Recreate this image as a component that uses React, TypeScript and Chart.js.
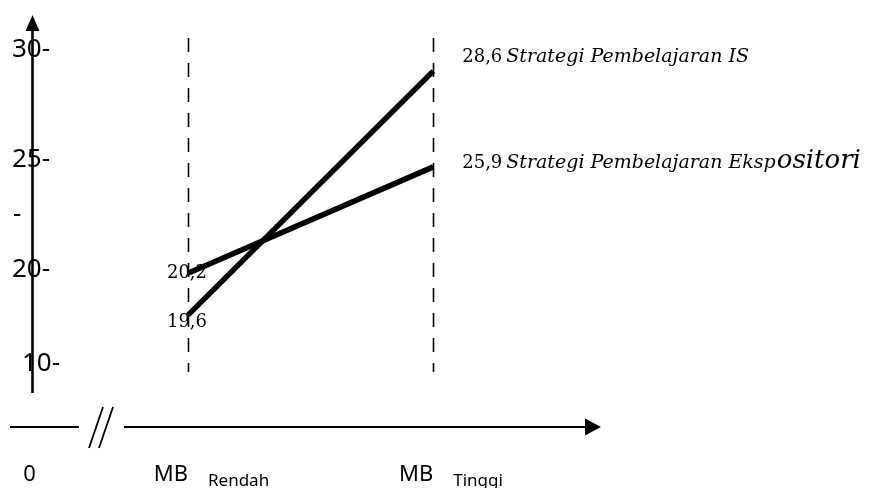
import React, { useEffect, useRef } from "react";
import { Chart, registerables, LinearScale } from "chart.js";

// ---------- data ----------
const categories = ["Rendah", "Tinggi"];
const categoryPrefix = "MB";
const categoryX = [1, 2];
const originLabel = "0";

const seriesNames = ["Strategi Pembelajaran IS", "Strategi Pembelajaran Ekspositori"];
// values printed on the chart
const isPrinted = [19.6, 28.6];
const eksPrinted = [20.2, 25.9];
// where the lines are drawn, read against the (broken) axis
const isPlotted = [15.0, 28.95];
const eksPlotted = [19.45, 24.6];

const yTickValues = [30, 25, 22.5, 20, 10];
const yTickLabels = ["30-", "25-", "-", "20-", "10-"];

// ---------- broken y scale (compressed below 20) ----------
const BREAK_AT = 20;
const BELOW_RATIO = 0.427;
const fwd = (v: number) => (v >= BREAK_AT ? v : BREAK_AT - (BREAK_AT - v) * BELOW_RATIO);
const inv = (t: number) => (t >= BREAK_AT ? t : BREAK_AT - (BREAK_AT - t) / BELOW_RATIO);

class BrokenLinearScale extends LinearScale {
  configure() {
    super.configure();
    const s = fwd(this.min);
    const e = fwd(this.max);
    (this as any)._startValue = s;
    (this as any)._endValue = e;
    (this as any)._valueRange = e - s;
  }
  getPixelForValue(value: number) {
    return super.getPixelForValue(value === null || value === undefined ? value : fwd(value));
  }
  getValueForPixel(pixel: number) {
    return inv(super.getValueForPixel(pixel) as number);
  }
}
(BrokenLinearScale as any).id = "brokenLinear";
(BrokenLinearScale as any).defaults = (LinearScale as any).defaults;

Chart.register(...registerables, BrokenLinearScale as any);

// ---------- styles ----------
const SANS = "'Noto Sans', 'Open Sans', sans-serif";
const SERIF = "'DejaVu Serif', serif";
const tickIndent = [0, 0, 1, 0, 10];
const endLabelDy = [-9, 1];
const startLabelDy = [12, 5];
const enlargeFrom = [-1, "Strategi Pembelajaran Eksp".length];

const fmt = (v: number) => v.toFixed(1).replace(".", ",");

const decor = {
  id: "decor",
  beforeDatasetsDraw(chart: any) {
    const { ctx, chartArea: a, scales } = chart;
    const xs = scales.x;
    ctx.save();
    ctx.strokeStyle = "#000";
    ctx.fillStyle = "#000";

    // dashed guide lines
    ctx.lineWidth = 1.6;
    ctx.setLineDash([14, 11]);
    categoryX.forEach((cx) => {
      const px = Math.round(xs.getPixelForValue(cx)) + 0.5;
      ctx.beginPath();
      ctx.moveTo(px, a.top - 10);
      ctx.lineTo(px, a.bottom - 55);
      ctx.stroke();
    });
    ctx.setLineDash([]);

    // y axis with arrow
    const ax = a.left + 1.5;
    ctx.lineWidth = 2.6;
    ctx.beginPath();
    ctx.moveTo(ax, a.bottom - 34);
    ctx.lineTo(ax, a.top - 18);
    ctx.stroke();
    ctx.beginPath();
    ctx.moveTo(ax, a.top - 33);
    ctx.lineTo(ax - 7, a.top - 17);
    ctx.lineTo(ax + 7, a.top - 17);
    ctx.closePath();
    ctx.fill();

    // x axis with break and arrow
    const ay = a.bottom;
    ctx.lineWidth = 2.2;
    ctx.beginPath();
    ctx.moveTo(a.left - 21, ay);
    ctx.lineTo(a.left + 48, ay);
    ctx.moveTo(a.left + 93, ay);
    ctx.lineTo(a.right - 15, ay);
    ctx.stroke();
    ctx.lineWidth = 1.8;
    ctx.beginPath();
    ctx.moveTo(a.left + 58, ay + 21);
    ctx.lineTo(a.left + 72, ay - 20);
    ctx.moveTo(a.left + 68, ay + 21);
    ctx.lineTo(a.left + 82, ay - 20);
    ctx.stroke();
    ctx.beginPath();
    ctx.moveTo(a.right + 1, ay);
    ctx.lineTo(a.right - 15, ay - 8.5);
    ctx.lineTo(a.right - 15, ay + 8.5);
    ctx.closePath();
    ctx.fill();
    ctx.restore();
  },
  afterDatasetsDraw(chart: any) {
    const { ctx, chartArea: a, scales } = chart;
    const xs = scales.x;
    const ys = scales.y;
    ctx.save();
    ctx.fillStyle = "#000";
    ctx.textBaseline = "alphabetic";

    // y tick labels
    ctx.font = `26px ${SANS}`;
    ctx.textAlign = "left";
    yTickValues.forEach((v, i) => {
      const py = ys.getPixelForValue(v);
      ctx.fillText(yTickLabels[i], a.left - 19 + tickIndent[i], py + 9);
    });

    // x labels
    ctx.font = `22px ${SANS}`;
    ctx.textAlign = "center";
    ctx.fillText(originLabel, a.left - 1.5, a.bottom + 54);
    categories.forEach((c, i) => {
      const px = xs.getPixelForValue(categoryX[i]);
      ctx.font = `22px ${SANS}`;
      ctx.textAlign = "right";
      ctx.fillText(categoryPrefix, px, a.bottom + 54);
      ctx.font = `17px ${SANS}`;
      ctx.textAlign = "left";
      ctx.fillText(c, px + 20, a.bottom + 59);
    });

    // value labels
    const printed = [isPrinted, eksPrinted];
    const plotted = [isPlotted, eksPlotted];
    printed.forEach((vals, s) => {
      // start label
      const x0 = xs.getPixelForValue(categoryX[0]);
      const y0 = ys.getPixelForValue(plotted[s][0]);
      ctx.font = `18px ${SERIF}`;
      ctx.textAlign = "left";
      ctx.fillText(fmt(vals[0]), x0 - 21, y0 + startLabelDy[s]);

      // end label with series name
      const x1 = xs.getPixelForValue(categoryX[1]) + 29;
      const y1 = ys.getPixelForValue(plotted[s][1]) + endLabelDy[s];
      const num = fmt(vals[1]);
      ctx.font = `18px ${SERIF}`;
      ctx.fillText(num, x1, y1);
      let x = x1 + ctx.measureText(num).width + 4;
      const name = seriesNames[s];
      const cut = enlargeFrom[s] as number;
      const small = cut > 0 ? name.slice(0, cut) : name;
      const big = cut > 0 ? name.slice(cut) : "";
      ctx.font = `italic 19px ${SERIF}`;
      ctx.fillText(small, x, y1);
      x += ctx.measureText(small).width;
      if (big) {
        ctx.font = `italic 26px ${SERIF}`;
        ctx.fillText(big, x + 1, y1);
      }
    });
    ctx.restore();
  },
};

export default function App() {
  const ref = useRef<HTMLCanvasElement | null>(null);
  useEffect(() => {
    document.body.style.margin = "0";
    const canvas = ref.current;
    if (!canvas) return;
    const chart = new Chart(canvas, {
      type: "line",
      data: {
        datasets: [
          {
            label: seriesNames[0],
            data: categoryX.map((x, i) => ({ x, y: isPlotted[i] })),
            borderColor: "#000",
            borderWidth: 5.5,
            pointRadius: 0,
            tension: 0,
            fill: false,
          },
          {
            label: seriesNames[1],
            data: categoryX.map((x, i) => ({ x, y: eksPlotted[i] })),
            borderColor: "#000",
            borderWidth: 5.5,
            pointRadius: 0,
            tension: 0,
            fill: false,
          },
        ],
      },
      options: {
        animation: false,
        responsive: false,
        devicePixelRatio: 1,
        layout: { padding: { top: 48, bottom: 61, left: 31, right: 270 } },
        plugins: { legend: { display: false }, tooltip: { enabled: false } },
        scales: {
          x: { type: "linear", min: 0.36, max: 2.68, display: false },
          y: { type: "brokenLinear" as any, min: 3.1, max: 30, display: false },
        },
      } as any,
      plugins: [decor],
    });
    return () => chart.destroy();
  }, []);
  return (
    <div style={{ width: 870, height: 488, background: "#fff" }}>
      <canvas ref={ref} width={870} height={488} style={{ display: "block", width: 870, height: 488 }} />
    </div>
  );
}
